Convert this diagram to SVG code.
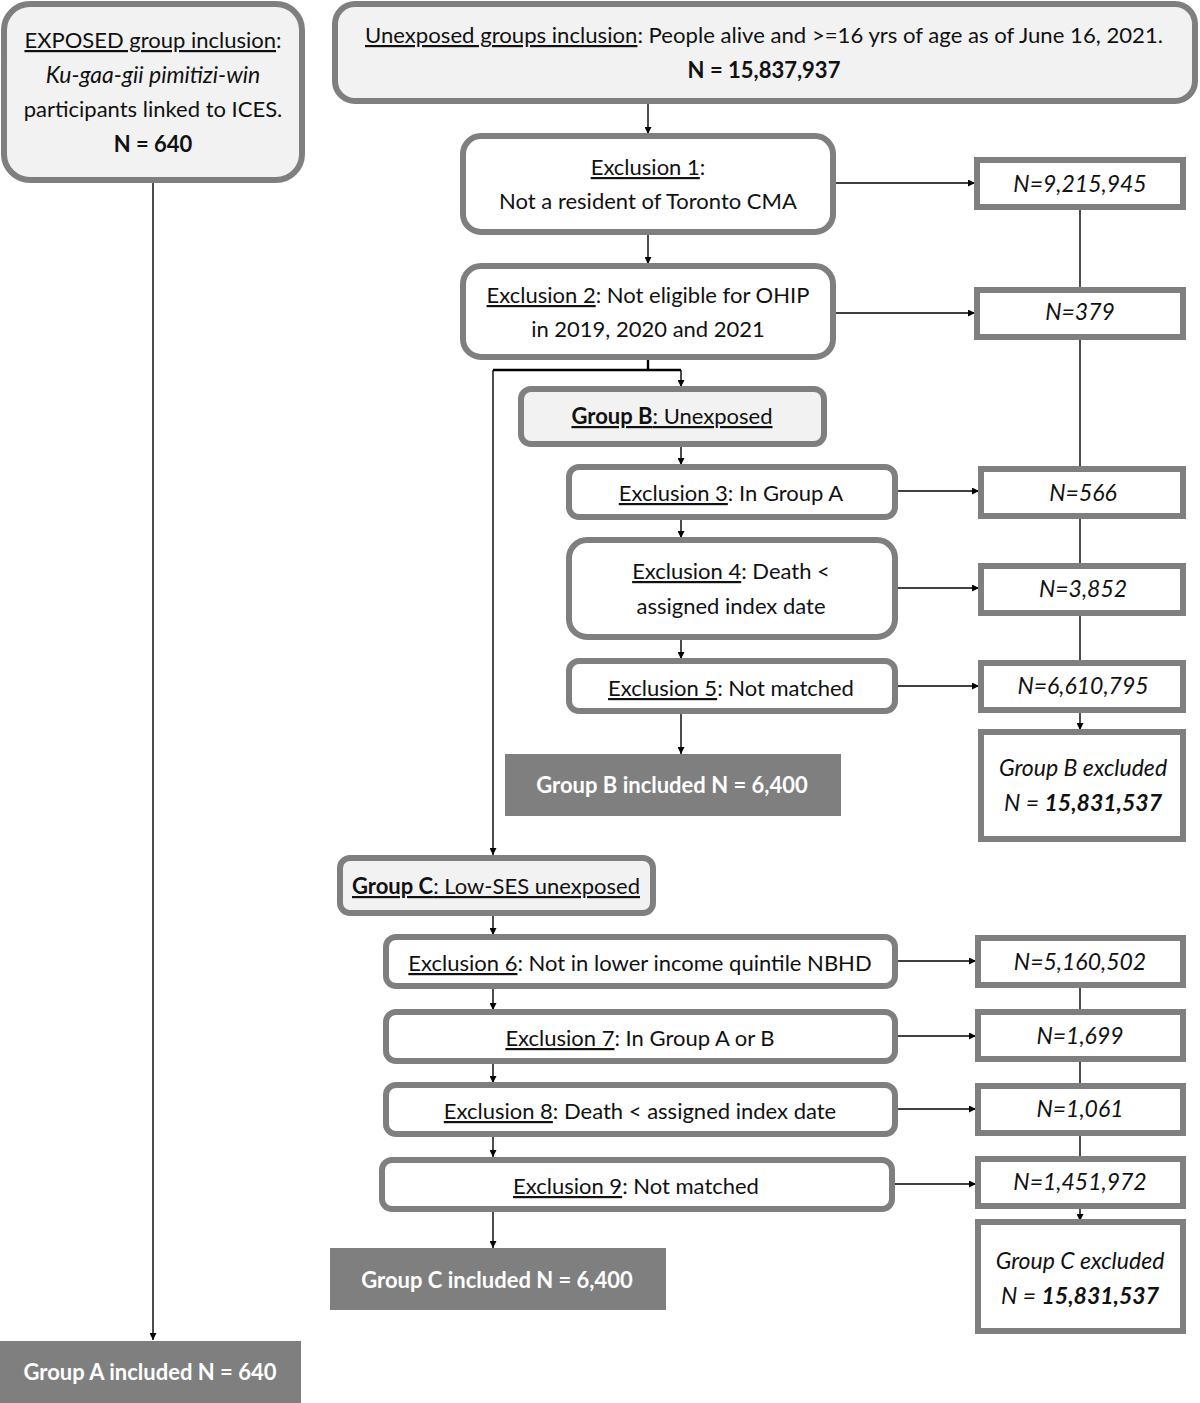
<svg xmlns="http://www.w3.org/2000/svg" width="1200" height="1403" viewBox="0 0 1200 1403">
<style>
text{font-family:Lato,"Liberation Sans",sans-serif;font-size:22px;fill:#111;text-anchor:middle}
.rn{fill:#fff;stroke:#7f7f7f;stroke-width:6}
.rg{fill:#f2f2f2;stroke:#7f7f7f;stroke-width:6}
.sq{fill:#fff;stroke:#7f7f7f;stroke-width:6}
.inc{fill:#7f7f7f;stroke:none}
.it{font-style:italic;font-size:23px}
.b{font-weight:bold}
.u{text-decoration:underline}
.w{fill:#fff;font-weight:bold}
.c{stroke:#000;stroke-width:1.4;fill:none}
.ct{stroke:#000;stroke-width:2.4;fill:none}
.ca{stroke:#000;stroke-width:1.4;fill:none;marker-end:url(#ah)}
</style>
<defs>
<marker id="ah" viewBox="0 0 10 10" refX="10" refY="5" markerWidth="7" markerHeight="7" markerUnits="userSpaceOnUse" orient="auto">
<path d="M0,0 L10,5 L0,10 z" fill="#000"/>
</marker>
</defs>
<rect width="1200" height="1403" fill="#fff"/>

<g id="connectors">
<path class="ca" d="M153,181 V1340"/>
<path class="ca" d="M648,101 V134"/>
<path class="ca" d="M834,183 H975"/>
<path class="ca" d="M648,232 V264"/>
<path class="ca" d="M834,313 H975"/>
<path class="c" d="M1080,208 V289"/>
<path class="c" d="M1080,337 V468"/>
<path class="c" d="M1080,517 V565"/>
<path class="c" d="M1080,614 V662"/>
<path class="ca" d="M1080,710 V730"/>
<path class="ct" d="M648,357 V370 M493,370 H681"/>
<path class="ca" d="M681,370 V387"/>
<path class="ca" d="M493,370 V855"/>
<path class="ca" d="M681,444 V465"/>
<path class="ca" d="M895,491 H979"/>
<path class="ca" d="M681,517 V538"/>
<path class="ca" d="M895,588 H979"/>
<path class="ca" d="M681,637 V659"/>
<path class="ca" d="M895,686 H979"/>
<path class="ca" d="M681,711 V754"/>
<path class="ca" d="M493,913 V935"/>
<path class="ca" d="M895,961 H976"/>
<path class="ca" d="M493,986 V1010"/>
<path class="ca" d="M895,1036 H976"/>
<path class="ca" d="M493,1061 V1083"/>
<path class="ca" d="M895,1109 H976"/>
<path class="ca" d="M493,1134 V1157"/>
<path class="ca" d="M893,1184 H976"/>
<path class="c" d="M1080,985 V1011"/>
<path class="c" d="M1080,1060 V1085"/>
<path class="c" d="M1080,1133 V1158"/>
<path class="ca" d="M1080,1207 V1221"/>
<path class="ca" d="M493,1209 V1248"/>
</g>

<g id="exposed">
<rect class="rg" x="4" y="4" width="298" height="176" rx="26"/>
<text x="153" y="48"><tspan class="u">EXPOSED group inclusion</tspan>:</text>
<text x="153" y="83" class="it">Ku-gaa-gii pimitizi-win</text>
<text x="153" y="117">participants linked to ICES.</text>
<text x="153" y="152" class="b">N = 640</text>
</g>

<g id="unexposed">
<rect class="rg" x="335" y="4" width="860" height="97" rx="20"/>
<text x="764" y="43" textLength="798" lengthAdjust="spacingAndGlyphs"><tspan class="u">Unexposed groups inclusion</tspan>: People alive and &gt;=16 yrs of age as of June 16, 2021.</text>
<text x="764" y="78" class="b">N = 15,837,937</text>
</g>

<g id="excl1">
<rect class="rn" x="463" y="136" width="370" height="96" rx="18"/>
<text x="648" y="175"><tspan class="u">Exclusion 1</tspan>:</text>
<text x="648" y="209">Not a resident of Toronto CMA</text>
</g>
<g id="n1">
<rect class="sq" x="977" y="160" width="206" height="47"/>
<text x="1080" y="192" class="it">N=9,215,945</text>
</g>

<g id="excl2">
<rect class="rn" x="463" y="266" width="370" height="91" rx="18"/>
<text x="648" y="303"><tspan class="u">Exclusion 2</tspan>: Not eligible for OHIP</text>
<text x="648" y="337">in 2019, 2020 and 2021</text>
</g>
<g id="n2">
<rect class="sq" x="977" y="290" width="206" height="47"/>
<text x="1080" y="320" class="it">N=379</text>
</g>

<g id="groupB">
<rect class="rg" x="521" y="389" width="303" height="55" rx="10"/>
<text x="672" y="424" class="u"><tspan class="b">Group B</tspan>: Unexposed</text>
</g>

<g id="excl3">
<rect class="rn" x="569" y="467" width="326" height="50" rx="10"/>
<text x="731" y="501"><tspan class="u">Exclusion 3</tspan>: In Group A</text>
</g>
<g id="n3">
<rect class="sq" x="981" y="469" width="202" height="47"/>
<text x="1083" y="501" class="it">N=566</text>
</g>

<g id="excl4">
<rect class="rn" x="569" y="540" width="326" height="97" rx="18"/>
<text x="731" y="579"><tspan class="u">Exclusion 4</tspan>: Death &lt;</text>
<text x="731" y="614">assigned index date</text>
</g>
<g id="n4">
<rect class="sq" x="981" y="566" width="202" height="47"/>
<text x="1083" y="597" class="it">N=3,852</text>
</g>

<g id="excl5">
<rect class="rn" x="569" y="661" width="326" height="50" rx="10"/>
<text x="731" y="696"><tspan class="u">Exclusion 5</tspan>: Not matched</text>
</g>
<g id="n5">
<rect class="sq" x="981" y="663" width="202" height="47"/>
<text x="1083" y="694" class="it">N=6,610,795</text>
</g>

<g id="groupBinc">
<rect class="inc" x="505" y="754" width="336" height="62"/>
<text x="672" y="793" class="w">Group B included N = 6,400</text>
</g>

<g id="groupBexc">
<rect class="sq" x="981" y="732" width="202" height="107"/>
<text x="1083" y="776" class="it">Group B excluded</text>
<text x="1083" y="811" class="it">N = <tspan class="b">15,831,537</tspan></text>
</g>

<g id="groupC">
<rect class="rg" x="340" y="858" width="313" height="55" rx="10"/>
<text x="496" y="894" class="u"><tspan class="b">Group C</tspan>: Low-SES unexposed</text>
</g>

<g id="excl6">
<rect class="rn" x="386" y="937" width="509" height="49" rx="10"/>
<text x="640" y="971"><tspan class="u">Exclusion 6</tspan>: Not in lower income quintile NBHD</text>
</g>
<g id="n6">
<rect class="sq" x="978" y="938" width="205" height="47"/>
<text x="1080" y="970" class="it">N=5,160,502</text>
</g>

<g id="excl7">
<rect class="rn" x="386" y="1012" width="509" height="49" rx="10"/>
<text x="640" y="1046"><tspan class="u">Exclusion 7</tspan>: In Group A or B</text>
</g>
<g id="n7">
<rect class="sq" x="978" y="1012" width="205" height="47"/>
<text x="1080" y="1044" class="it">N=1,699</text>
</g>

<g id="excl8">
<rect class="rn" x="386" y="1085" width="509" height="49" rx="10"/>
<text x="640" y="1119"><tspan class="u">Exclusion 8</tspan>: Death &lt; assigned index date</text>
</g>
<g id="n8">
<rect class="sq" x="978" y="1086" width="205" height="47"/>
<text x="1080" y="1117" class="it">N=1,061</text>
</g>

<g id="excl9">
<rect class="rn" x="382" y="1160" width="510" height="49" rx="10"/>
<text x="636" y="1194"><tspan class="u">Exclusion 9</tspan>: Not matched</text>
</g>
<g id="n9">
<rect class="sq" x="978" y="1159" width="205" height="47"/>
<text x="1080" y="1190" class="it">N=1,451,972</text>
</g>

<g id="groupCexc">
<rect class="sq" x="978" y="1222" width="205" height="109"/>
<text x="1080" y="1269" class="it">Group C excluded</text>
<text x="1080" y="1304" class="it">N = <tspan class="b">15,831,537</tspan></text>
</g>

<g id="groupCinc">
<rect class="inc" x="330" y="1248" width="336" height="62"/>
<text x="497" y="1288" class="w">Group C included N = 6,400</text>
</g>

<g id="groupAinc">
<rect class="inc" x="0" y="1341" width="301" height="62"/>
<text x="150" y="1380" class="w">Group A included N = 640</text>
</g>
</svg>
